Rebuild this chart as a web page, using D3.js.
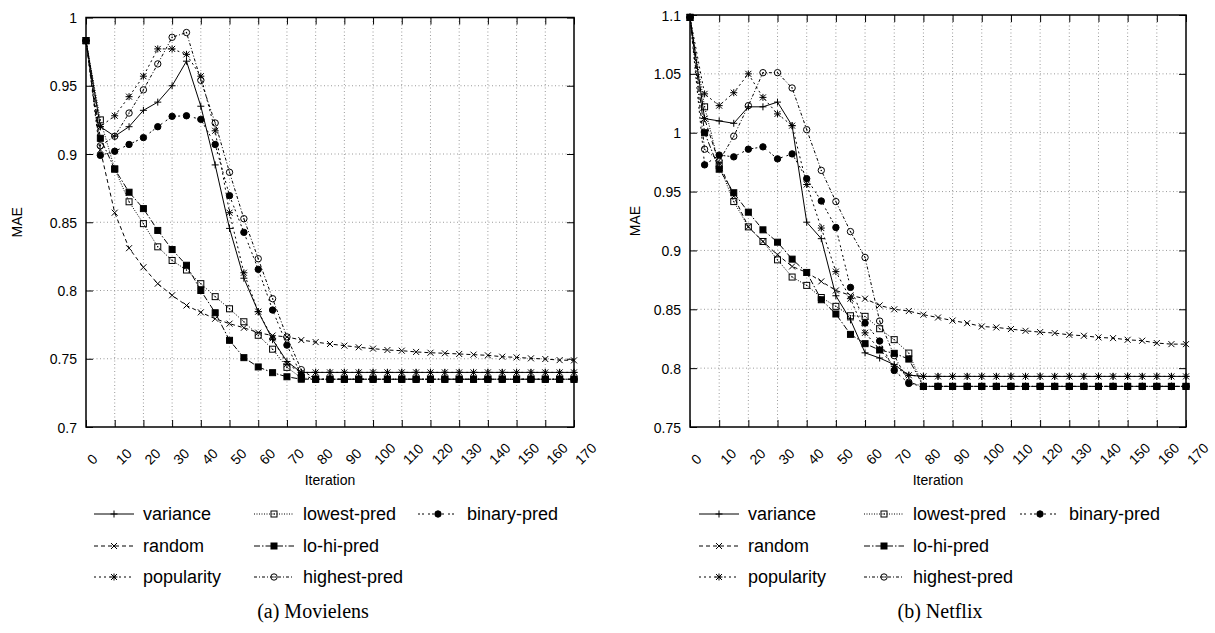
<!DOCTYPE html>
<html>
<head>
<meta charset="utf-8">
<style>
  body { margin: 0; background: #fff; }
  svg text { font-family: "Liberation Sans", Arial, sans-serif; fill: #000; }
  .axis text { font-size: 14px; }
  .axis line { stroke: #000; stroke-width: 1; }
  .axis path { display: none; }
  .grid line { stroke: #9a9a9a; stroke-width: 1; stroke-dasharray: 1,2.5; }
  .legend text { font-size: 18px; }
  .caption { font-family: "Liberation Serif", "Times New Roman", serif; font-size: 20px; }
</style>
</head>
<body>
<svg id="chart" width="1215" height="633"></svg>
<script src="https://cdn.jsdelivr.net/npm/d3@7/dist/d3.min.js"></script>
<script>
// iterations sampled every 5 steps
var iterations = [0, 5, 10, 15, 20, 25, 30, 35, 40, 45, 50, 55, 60, 65, 70, 75, 80, 85,
                  90, 95, 100, 105, 110, 115, 120, 125, 130, 135, 140, 145, 150, 155, 160, 165, 170];

var seriesNames = ["variance", "random", "popularity", "lowest-pred", "lo-hi-pred", "highest-pred", "binary-pred"];

var xTicks = [0, 10, 20, 30, 40, 50, 60, 70, 80, 90, 100, 110, 120, 130, 140, 150, 160, 170];
var mlYTicks = [0.7, 0.75, 0.8, 0.85, 0.9, 0.95, 1];
var nfYTicks = [0.75, 0.8, 0.85, 0.9, 0.95, 1, 1.05, 1.1];

// (a) Movielens
var mlVariance = [0.983, 0.920, 0.913, 0.920, 0.932, 0.938, 0.950, 0.968, 0.935, 0.892, 0.8455, 0.809,
  0.7845, 0.764, 0.748, 0.740, 0.740, 0.740, 0.740, 0.740, 0.740, 0.740, 0.740, 0.740, 0.740, 0.740,
  0.740, 0.740, 0.740, 0.740, 0.740, 0.740, 0.740, 0.740, 0.740];
var mlRandom = [0.983, 0.903, 0.857, 0.831, 0.817, 0.805, 0.7965, 0.789, 0.784, 0.7793, 0.7757, 0.7727,
  0.7691, 0.767, 0.766, 0.7637, 0.7622, 0.7608, 0.7596, 0.7584, 0.7574, 0.7564, 0.7559, 0.755, 0.7544,
  0.754, 0.7535, 0.753, 0.7525, 0.7515, 0.751, 0.7503, 0.7498, 0.749, 0.7488];
var mlPopularity = [0.983, 0.920, 0.928, 0.942, 0.957, 0.977, 0.977, 0.973, 0.957, 0.917, 0.857, 0.813,
  0.7845, 0.765, 0.746, 0.740, 0.740, 0.740, 0.740, 0.740, 0.740, 0.740, 0.740, 0.740, 0.740, 0.740,
  0.740, 0.740, 0.740, 0.740, 0.740, 0.740, 0.740, 0.740, 0.740];
var mlLowest = [0.983, 0.925, 0.889, 0.865, 0.849, 0.832, 0.822, 0.815, 0.805, 0.7955, 0.7866, 0.7771,
  0.7672, 0.757, 0.7437, 0.736, 0.735, 0.735, 0.735, 0.735, 0.735, 0.735, 0.735, 0.735, 0.735, 0.735,
  0.735, 0.735, 0.735, 0.735, 0.735, 0.735, 0.735, 0.735, 0.735];
var mlLoHi = [0.983, 0.9115, 0.889, 0.872, 0.860, 0.844, 0.830, 0.8185, 0.800, 0.7837, 0.7635, 0.7508,
  0.744, 0.7398, 0.7368, 0.735, 0.735, 0.735, 0.735, 0.735, 0.735, 0.735, 0.735, 0.735, 0.735, 0.735,
  0.735, 0.735, 0.735, 0.735, 0.735, 0.735, 0.735, 0.735, 0.735];
var mlHighest = [0.983, 0.906, 0.913, 0.930, 0.947, 0.966, 0.9855, 0.989, 0.954, 0.9227, 0.8866, 0.8526,
  0.8233, 0.794, 0.766, 0.742, 0.735, 0.735, 0.735, 0.735, 0.735, 0.735, 0.735, 0.735, 0.735, 0.735,
  0.735, 0.735, 0.735, 0.735, 0.735, 0.735, 0.735, 0.735, 0.735];
var mlBinary = [0.983, 0.899, 0.902, 0.907, 0.912, 0.920, 0.9276, 0.928, 0.9254, 0.907, 0.8695, 0.8426,
  0.8155, 0.7857, 0.760, 0.738, 0.735, 0.735, 0.735, 0.735, 0.735, 0.735, 0.735, 0.735, 0.735, 0.735,
  0.735, 0.735, 0.735, 0.735, 0.735, 0.735, 0.735, 0.735, 0.735];

// (b) Netflix
var nfVariance = [1.098, 1.012, 1.010, 1.008, 1.022, 1.022, 1.026, 1.006, 0.924, 0.910, 0.8615, 0.841,
  0.813, 0.8086, 0.803, 0.794, 0.793, 0.793, 0.793, 0.793, 0.793, 0.793, 0.793, 0.793, 0.793, 0.793,
  0.793, 0.793, 0.793, 0.793, 0.793, 0.793, 0.793, 0.793, 0.793];
var nfRandom = [1.098, 1.012, 0.974, 0.946, 0.920, 0.9076, 0.8963, 0.8864, 0.8813, 0.8737, 0.866, 0.8618,
  0.859, 0.8533, 0.850, 0.8485, 0.8454, 0.843, 0.8404, 0.8382, 0.8354, 0.8346, 0.8332, 0.8317, 0.8306,
  0.8298, 0.8283, 0.8275, 0.8261, 0.8255, 0.8241, 0.8233, 0.8213, 0.8204, 0.8204];
var nfPopularity = [1.098, 1.033, 1.023, 1.034, 1.050, 1.030, 1.016, 1.006, 0.956, 0.919, 0.882, 0.859,
  0.830, 0.816, 0.8015, 0.794, 0.793, 0.793, 0.793, 0.793, 0.793, 0.793, 0.793, 0.793, 0.793, 0.793,
  0.793, 0.793, 0.793, 0.793, 0.793, 0.793, 0.793, 0.793, 0.793];
var nfLowest = [1.098, 1.022, 0.972, 0.9415, 0.920, 0.9076, 0.892, 0.8774, 0.8703, 0.860, 0.8525, 0.8445,
  0.844, 0.8335, 0.8242, 0.8128, 0.7845, 0.7845, 0.7845, 0.7845, 0.7845, 0.7845, 0.7845, 0.7845, 0.7845,
  0.7845, 0.7845, 0.7845, 0.7845, 0.7845, 0.7845, 0.7845, 0.7845, 0.7845, 0.7845];
var nfLoHi = [1.098, 1.000, 0.969, 0.949, 0.9325, 0.9175, 0.907, 0.8926, 0.8813, 0.8581, 0.846, 0.8287,
  0.8208, 0.8154, 0.8126, 0.8077, 0.7845, 0.7845, 0.7845, 0.7845, 0.7845, 0.7845, 0.7845, 0.7845, 0.7845,
  0.7845, 0.7845, 0.7845, 0.7845, 0.7845, 0.7845, 0.7845, 0.7845, 0.7845, 0.7845];
var nfHighest = [1.098, 0.986, 0.976, 0.997, 1.023, 1.051, 1.051, 1.038, 1.0026, 0.968, 0.9415, 0.916,
  0.894, 0.840, 0.8106, 0.788, 0.7845, 0.7845, 0.7845, 0.7845, 0.7845, 0.7845, 0.7845, 0.7845, 0.7845,
  0.7845, 0.7845, 0.7845, 0.7845, 0.7845, 0.7845, 0.7845, 0.7845, 0.7845, 0.7845];
var nfBinary = [1.098, 0.9727, 0.981, 0.9795, 0.986, 0.988, 0.9778, 0.982, 0.961, 0.942, 0.9195, 0.8686,
  0.8383, 0.823, 0.798, 0.787, 0.7845, 0.7845, 0.7845, 0.7845, 0.7845, 0.7845, 0.7845, 0.7845, 0.7845,
  0.7845, 0.7845, 0.7845, 0.7845, 0.7845, 0.7845, 0.7845, 0.7845, 0.7845, 0.7845];

// line / point style per series (gnuplot-like)
var styles = {
  "variance":     { dash: null,          mark: "plus" },
  "random":       { dash: "4,3",         mark: "cross" },
  "popularity":   { dash: "2,3",         mark: "star" },
  "lowest-pred":  { dash: "1,1.5",       mark: "square" },
  "lo-hi-pred":   { dash: "6,2,1.5,2",   mark: "squareFilled" },
  "highest-pred": { dash: "3,2,1,2",     mark: "circle" },
  "binary-pred":  { dash: "2,2,2,4",     mark: "circleFilled" }
};

var svg = d3.select("#chart");

function drawMark(g, type) {
  if (type === "plus" || type === "star") {
    g.append("path").attr("d", "M-3.5,0H3.5M0,-3.5V3.5")
      .attr("stroke", "#000").attr("stroke-width", 1).attr("fill", "none");
  }
  if (type === "cross" || type === "star") {
    g.append("path").attr("d", "M-3,-3L3,3M-3,3L3,-3")
      .attr("stroke", "#000").attr("stroke-width", 1).attr("fill", "none");
  }
  if (type === "square" || type === "squareFilled") {
    g.append("rect").attr("x", -3).attr("y", -3).attr("width", 6).attr("height", 6)
      .attr("fill", type === "squareFilled" ? "#000" : "none")
      .attr("stroke", "#000").attr("stroke-width", 1);
  }
  if (type === "circle" || type === "circleFilled") {
    g.append("circle").attr("r", 3.2)
      .attr("fill", type === "circleFilled" ? "#000" : "none")
      .attr("stroke", "#000").attr("stroke-width", 1);
  }
  if (type === "square" || type === "circle") {
    g.append("circle").attr("r", 0.7).attr("fill", "#000");
  }
}

function drawPanel(p) {
  var x = d3.scaleLinear().domain([0, 170]).range([p.left, p.right]);
  var y = d3.scaleLinear().domain(p.yDomain).range([p.bottom, p.top]);
  var g = svg.append("g");

  // grid
  var grid = g.append("g").attr("class", "grid");
  grid.selectAll(".gx").data(xTicks.slice(1, -1)).enter().append("line")
    .attr("x1", function (d) { return x(d); }).attr("x2", function (d) { return x(d); })
    .attr("y1", p.top).attr("y2", p.bottom);
  grid.selectAll(".gy").data(p.yTicks.slice(1, -1)).enter().append("line")
    .attr("y1", function (d) { return y(d); }).attr("y2", function (d) { return y(d); })
    .attr("x1", p.left).attr("x2", p.right);

  // inward ticks on all four sides
  var fmt = function (d) { return String(+d.toFixed(2)); };
  var bottomAxis = g.append("g").attr("class", "axis")
    .attr("transform", "translate(0," + p.bottom + ")")
    .call(d3.axisBottom(x).tickValues(xTicks).tickSize(-7).tickFormat(fmt));
  bottomAxis.selectAll("text")
    .attr("y", 0).attr("dy", null)
    .attr("text-anchor", "start")
    .attr("dominant-baseline", "central")
    .attr("transform", "translate(3,35) rotate(-45)");
  g.append("g").attr("class", "axis")
    .attr("transform", "translate(0," + p.top + ")")
    .call(d3.axisTop(x).tickValues(xTicks).tickSize(-7).tickFormat(""));
  g.append("g").attr("class", "axis")
    .attr("transform", "translate(" + p.left + ",0)")
    .call(d3.axisLeft(y).tickValues(p.yTicks).tickSize(-7).tickPadding(9).tickFormat(fmt))
    .selectAll("text").attr("dy", null).attr("dominant-baseline", "central");
  g.append("g").attr("class", "axis")
    .attr("transform", "translate(" + p.right + ",0)")
    .call(d3.axisRight(y).tickValues(p.yTicks).tickSize(-7).tickFormat(""));

  // series
  var line = d3.line()
    .x(function (d) { return x(d[0]); })
    .y(function (d) { return y(d[1]); });
  seriesNames.forEach(function (name, i) {
    var pts = iterations.map(function (it, k) { return [it, p.values[i][k]]; });
    var st = styles[name];
    g.append("path").datum(pts)
      .attr("d", line)
      .attr("fill", "none")
      .attr("stroke", "#000")
      .attr("stroke-width", 1)
      .attr("stroke-dasharray", st.dash);
    g.selectAll(".m" + i).data(pts).enter().append("g")
      .attr("transform", function (d) { return "translate(" + x(d[0]) + "," + y(d[1]) + ")"; })
      .each(function () { drawMark(d3.select(this), st.mark); });
  });

  // border
  g.append("rect")
    .attr("x", p.left).attr("y", p.top)
    .attr("width", p.right - p.left).attr("height", p.bottom - p.top)
    .attr("fill", "none").attr("stroke", "#000").attr("stroke-width", 1.5);

  // axis titles
  g.append("text")
    .attr("x", (p.left + p.right) / 2).attr("y", p.bottom + 58)
    .attr("text-anchor", "middle").style("font-size", "14px")
    .text("Iteration");
  g.append("text")
    .attr("transform", "translate(" + p.yLabelX + "," + ((p.top + p.bottom) / 2) + ") rotate(-90)")
    .attr("text-anchor", "middle").attr("dominant-baseline", "central")
    .style("font-size", "14px")
    .text("MAE");

  // legend: 3 rows, column-major
  var leg = g.append("g").attr("class", "legend");
  var rows = [514, 546, 577];
  seriesNames.forEach(function (name, i) {
    var col = Math.floor(i / 3), row = i % 3;
    var x0 = p.legendCols[col], ly = rows[row];
    var st = styles[name];
    leg.append("line")
      .attr("x1", x0).attr("x2", x0 + 40).attr("y1", ly).attr("y2", ly)
      .attr("stroke", "#000").attr("stroke-width", 1)
      .attr("stroke-dasharray", st.dash);
    drawMark(leg.append("g").attr("transform", "translate(" + (x0 + 20) + "," + ly + ")"), st.mark);
    leg.append("text")
      .attr("x", x0 + 49).attr("y", ly)
      .attr("dominant-baseline", "central")
      .text(name);
  });

  // caption
  g.append("text").attr("class", "caption")
    .attr("x", p.captionX).attr("y", 611)
    .attr("text-anchor", "middle").attr("dominant-baseline", "central")
    .text(p.caption);
}

drawPanel({
  left: 86, right: 574, top: 17.5, bottom: 427,
  yDomain: [0.7, 1], yTicks: mlYTicks,
  values: [mlVariance, mlRandom, mlPopularity, mlLowest, mlLoHi, mlHighest, mlBinary],
  yLabelX: 17, legendCols: [94, 254, 418],
  caption: "(a) Movielens", captionX: 313
});

drawPanel({
  left: 690, right: 1186, top: 15, bottom: 427,
  yDomain: [0.75, 1.1], yTicks: nfYTicks,
  values: [nfVariance, nfRandom, nfPopularity, nfLowest, nfLoHi, nfHighest, nfBinary],
  yLabelX: 635, legendCols: [699, 864, 1020],
  caption: "(b) Netflix", captionX: 940
});
</script>
</body>
</html>
